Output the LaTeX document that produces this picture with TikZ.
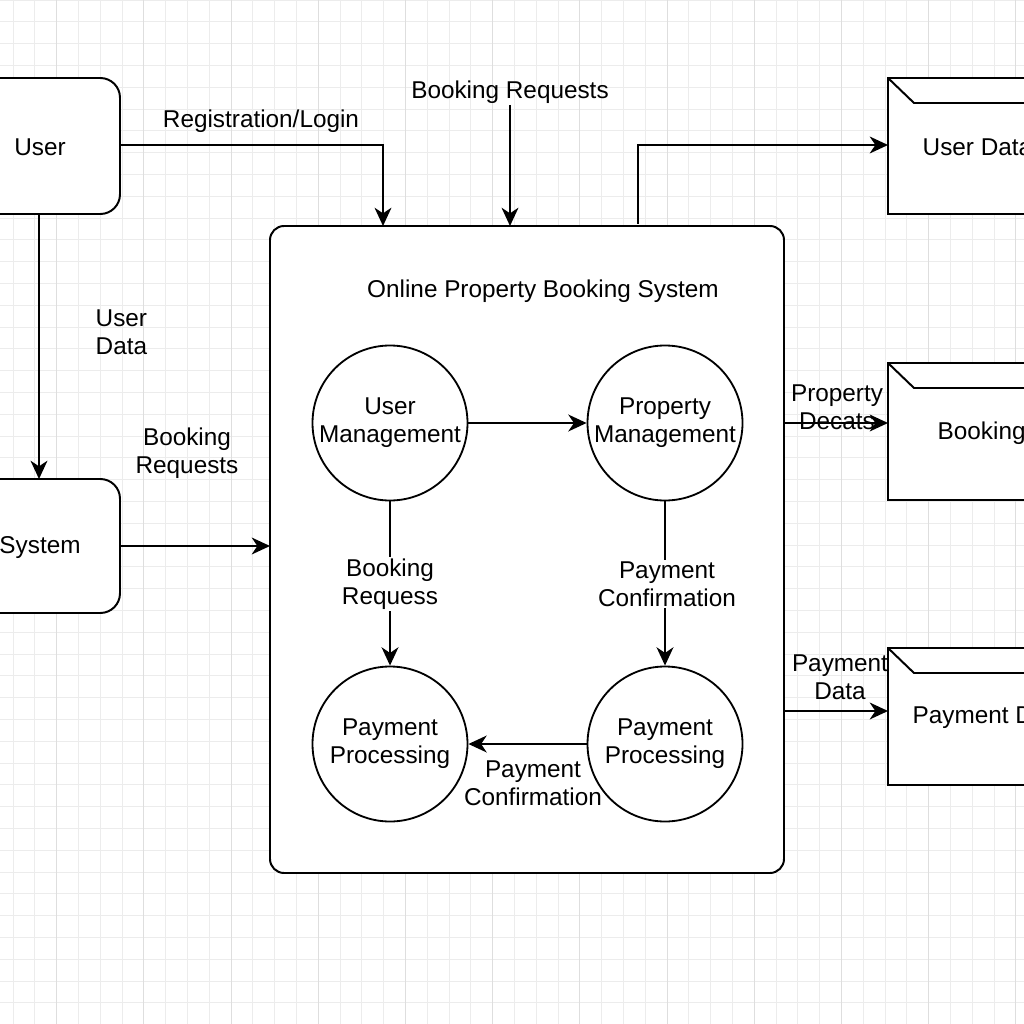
\documentclass[tikz,border=0pt]{standalone}
\usepackage{fontspec}
\setmainfont{Liberation Sans}
\usetikzlibrary{arrows.meta}
\definecolor{gridminor}{RGB}{236,236,236}
\definecolor{gridmajor}{RGB}{222,222,222}
\begin{document}
\begin{tikzpicture}[x=0.025cm,y=-0.025cm,
  every node/.style={font=\fontsize{17.3}{20}\selectfont, align=center, inner sep=1pt},
  flow/.style={line width=1.3pt, -{Stealth[length=13pt,width=12pt,inset=4pt]}},
  entity/.style={line width=1.4pt, rounded corners=14pt, fill=white},
  proc/.style={circle, draw, line width=1.3pt, minimum size=155*0.025cm, fill=white},
  store/.style={line width=1.4pt}]
\useasboundingbox (0,0) rectangle (1024,1024);
\clip (0,0) rectangle (1024,1024);
\fill[white] (0,0) rectangle (1024,1024);
% background grid
\foreach \i in {0,...,47} {
  \draw[gridminor, line width=0.6pt] ({13+21.8*\i},0) -- ({13+21.8*\i},1024);
  \draw[gridminor, line width=0.6pt] (0,{0+21.8*\i}) -- (1024,{0+21.8*\i});
}
\foreach \i in {0,...,11} {
  \draw[gridmajor, line width=0.7pt] ({56.6+87.2*\i},0) -- ({56.6+87.2*\i},1024);
}

% external entities
\draw[entity] (-20,78) rectangle (120,214);
\node (user) at (40,147) {User};
\coordinate (userR) at (120,145);
\coordinate (userB) at (39,214);
\draw[entity] (-20,479) rectangle (120,613);
\node (sys) at (40,548) {System};
\coordinate (sysR) at (120,546);
\coordinate (sysT) at (39,479);

% main process box
\draw[line width=1.4pt, rounded corners=10pt, fill=white] (270,226) rectangle (784,873);
\node (title) at (543,291) {Online Property Booking System};

% data stores
\foreach \yt/\yb in {78/214, 363/500, 648/785} {
  \draw[store, fill=white] (1040,\yt) -- (888,\yt) -- (888,\yb) -- (1040,\yb);
  \draw[store] (888,\yt) -- (914,\yt+25) -- (1040,\yt+25);
}
\node[anchor=west] (udata) at (921,147) {User Data};
\node[anchor=west] (bdata) at (936,433) {Booking};
\node[anchor=west] (pdata) at (911,718) {Payment Data};
\coordinate (udIn) at (888,145);
\coordinate (pdIn) at (888,423);
\coordinate (payIn) at (888,711);

% processes
\node[proc] (um) at (390,423) {User\\Management};
\node[proc] (pm) at (665,423) {Property\\Management};
\node[proc] (pp1) at (390,744) {Payment\\Processing};
\node[proc] (pp2) at (665,744) {Payment\\Processing};

% flows into and out of the system
\coordinate (regIn) at (383,226);
\coordinate (brTop) at (510,105);
\coordinate (brIn) at (510,226);
\coordinate (udOut) at (638,224);
\coordinate (sysIn) at (270,546);
\draw[flow] (userR) -- (383,145) -- (regIn);
\node (regl) at (261,121) {Registration/Login};
\node (brl) at (510,92) {Booking Requests};
\draw[flow] (brTop) -- (brIn);
\draw[flow] (udOut) -- (638,145) -- (udIn);
\draw[flow] (userB) -- (sysT);
\node[align=left, anchor=west] (udl) at (94,332) {User\\Data};
\draw[flow] (sysR) -- (sysIn);
\node (brl2) at (187,453) {Booking\\Requests};

\coordinate (pdOut) at (784,423);
\draw[flow] (pdOut) -- (pdIn);
\node (pdl) at (837,407) {Property\\Decats};
\coordinate (payOut) at (784,711);
\draw[flow] (payOut) -- (payIn);
\node (payl) at (840,677) {Payment\\Data};

% internal flows
\draw[flow] (um.east) -- (pm.west);
\draw[flow] (um.south) -- (pp1.north);
\node[fill=white] (brql) at (390,584) {Booking\\Requess};
\draw[flow] (pm.south) -- (pp2.north);
\node[fill=white] (pcl) at (667,584) {Payment\\Confirmation};
\draw[flow] (pp2.west) -- (pp1.east);
\node (pcl2) at (533,783) {Payment\\Confirmation};
\end{tikzpicture}
\end{document}
